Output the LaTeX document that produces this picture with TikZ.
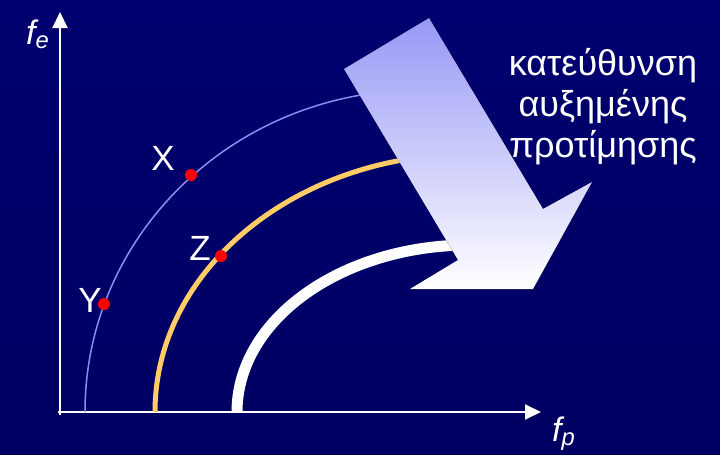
\documentclass[tikz,border=0pt]{standalone}
\usepackage{fontspec}
\setmainfont{Liberation Sans}
\usetikzlibrary{arrows.meta,positioning}
\definecolor{navytop}{HTML}{000070}
\definecolor{navybot}{HTML}{000062}
\definecolor{indiff}{HTML}{8C8CF2}
\definecolor{gold}{HTML}{FFCC66}
\definecolor{arrowtop}{HTML}{9898F6}
\tikzset{
  axis/.style={-{Triangle[width=15pt,length=16pt]}, line width=2pt, draw=white},
  thincurve/.style={line width=1.5pt, draw=indiff},
  midcurve/.style={line width=5pt, draw=gold},
  thickcurve/.style={line width=11pt, draw=white},
  dot/.style={circle, fill=red, inner sep=0pt, minimum size=12pt},
  ptlabel/.style={text=white, font=\fontsize{35}{35}\selectfont, inner sep=0pt},
  axlabel/.style={text=white, font=\fontsize{34}{34}\selectfont\itshape, inner sep=0pt, anchor=base west},
  greek/.style={text=white, font=\fontsize{36}{41}\selectfont, align=center, inner sep=0pt}
}

\begin{document}
\begin{tikzpicture}[x=1pt, y=-1pt]
  \useasboundingbox (0,0) rectangle (720,455);
  \fill[top color=navytop, bottom color=navybot] (0,0) rectangle (720,455);

  % axes
  \coordinate (vbot) at (60,415);
  \coordinate (vtop) at (60,12);
  \coordinate (hleft) at (58,412);
  \coordinate (hright) at (541,412);
  \draw[axis] (vbot) -- (vtop);
  \draw[axis] (hleft) -- (hright);
  \node[axlabel] (fe) at (26,44) {f\textsubscript{e}};
  \node[axlabel] (fp) at (552,441) {f\textsubscript{p}};

  % curves
  \coordinate (c1) at (85,412);
  \coordinate (c2) at (155,412);
  \coordinate (c3) at (237,412);
  \draw[thincurve] (c1) arc[start angle=180, end angle=266, x radius=335, y radius=322];
  \draw[midcurve] (c2) arc[start angle=180, end angle=265, x radius=315, y radius=258];
  \draw[thickcurve] (c3) arc[start angle=180, end angle=270, x radius=233, y radius=167];

  % direction arrow
  \fill[top color=arrowtop, bottom color=white]
    (429,18) -- (344,69) -- (458,260) -- (410,289) -- (533,289) -- (592,182) -- (543,209) -- cycle;
  \node[greek] (dirtext) at (603,107) {κατεύθυνση\\αυξημένης\\προτίμησης};

  % points
  \node[dot] (ptX) at (191,175) {};
  \node[dot] (ptY) at (104,304) {};
  \node[dot] (ptZ) at (221,256) {};
  \node[ptlabel] (labX) at (163,158) {X};
  \node[ptlabel] (labY) at (90,300) {Y};
  \node[ptlabel] (labZ) at (200,248) {Z};
\end{tikzpicture}
\end{document}
